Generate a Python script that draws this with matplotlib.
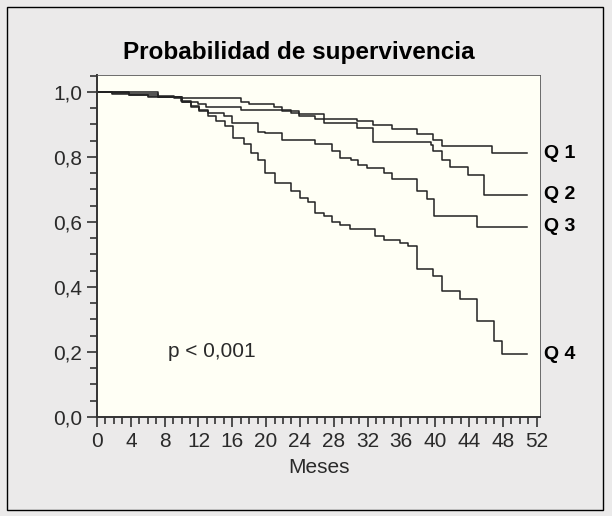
import matplotlib
matplotlib.use('Agg')
from matplotlib import pyplot as plt
from matplotlib.patches import Rectangle
from matplotlib.ticker import MultipleLocator

plt.rcParams['font.family'] = ['Liberation Sans', 'DejaVu Sans']

# Kaplan-Meier steps: (month, survival after the step)
q1_t = [0, 1.8, 3.8, 6.0, 9.1, 12.1, 17.0, 18.0, 20.9, 21.9, 23.9, 26.8, 30.7, 32.7, 34.9, 37.8, 39.8, 40.8, 46.7, 50.9]
q1_s = [1.0, 0.996, 0.99, 0.986, 0.982, 0.98, 0.968, 0.963, 0.953, 0.94, 0.932, 0.918, 0.911, 0.898, 0.885, 0.87, 0.853, 0.835, 0.812, 0.812]
q2_t = [0, 3.8, 7.2, 10.1, 11.9, 12.9, 17.0, 22.9, 23.9, 25.8, 26.8, 30.7, 32.7, 39.5, 39.8, 40.8, 41.8, 43.9, 45.8, 50.9]
q2_s = [1.0, 0.993, 0.983, 0.968, 0.963, 0.953, 0.945, 0.935, 0.926, 0.918, 0.903, 0.888, 0.847, 0.837, 0.817, 0.791, 0.768, 0.743, 0.684, 0.684]
q3_t = [0, 7.2, 10.1, 11.1, 12.1, 13.1, 15.0, 16.0, 19.0, 19.9, 21.9, 25.8, 27.8, 28.8, 30.0, 30.9, 31.9, 33.9, 34.9, 37.8, 39.0, 39.9, 44.9, 50.9]
q3_s = [1.0, 0.983, 0.968, 0.955, 0.945, 0.935, 0.926, 0.903, 0.878, 0.873, 0.853, 0.84, 0.817, 0.796, 0.791, 0.776, 0.765, 0.751, 0.732, 0.694, 0.671, 0.617, 0.585, 0.585]
q4_t = [0, 1.8, 3.8, 6.0, 9.9, 11.1, 12.1, 13.1, 14.1, 15.1, 16.1, 17.4, 18.2, 19.1, 19.9, 21.0, 22.9, 24.0, 25.0, 25.8, 26.8, 27.8, 28.8, 29.9,
        32.9, 33.9, 35.8, 36.8, 37.8, 39.8, 40.8, 42.9, 45.0, 46.9, 47.9, 50.9]
q4_s = [1.0, 0.995, 0.99, 0.985, 0.973, 0.957, 0.94, 0.926, 0.911, 0.894, 0.858, 0.84, 0.812, 0.791, 0.751, 0.72, 0.694, 0.674, 0.66, 0.628,
        0.617, 0.599, 0.592, 0.579, 0.556, 0.544, 0.536, 0.525, 0.454, 0.433, 0.387, 0.362, 0.295, 0.234, 0.193, 0.193]
labels = ['Q 1', 'Q 2', 'Q 3', 'Q 4']

fig = plt.figure(figsize=(6.12, 5.16), dpi=100)
fig.patch.set_facecolor('#ebeaea')
fig.patches.append(Rectangle((7/612, 6/516), 596/612, 503/516, transform=fig.transFigure,
                             fill=False, edgecolor='black', linewidth=1))
ax = fig.add_axes([97/612, 99/516, 443/612, 342/516])
ax.set_facecolor('#fffff5')

series = [(q1_t, q1_s), (q2_t, q2_s), (q3_t, q3_s), (q4_t, q4_s)]
for (t, s), lab in zip(series, labels):
    ax.step(t, s, where='post', color='#222222', linewidth=1.1)
    ax.text(52.9, s[-1], lab, fontsize=14, fontweight='bold', va='center', ha='left', clip_on=False)

ax.set_xlim(0, 52.4)
ax.set_ylim(0, 1.052)
ax.xaxis.set_major_locator(MultipleLocator(4))
ax.xaxis.set_minor_locator(MultipleLocator(1))
ax.yaxis.set_minor_locator(MultipleLocator(0.05))
ax.set_yticks([0, 0.2, 0.4, 0.6, 0.8, 1.0])
ax.set_yticklabels(['0,0', '0,2', '0,4', '0,6', '0,8', '1,0'])
ax.tick_params(which='both', direction='out', color='#333333', width=1.2, labelsize=15, labelcolor='#2a2a2a')
ax.tick_params(which='major', length=7)
ax.tick_params(which='minor', length=5)
for side in ['left', 'bottom']:
    ax.spines[side].set_linewidth(1.4)
    ax.spines[side].set_color('#333333')
for side in ['top', 'right']:
    ax.spines[side].set_linewidth(0.6)
    ax.spines[side].set_color('#555555')

ax.set_xlabel('Meses', fontsize=15, color='#2a2a2a', labelpad=5)
ax.text(8.4, 0.2, 'p < 0,001', fontsize=15, color='#2a2a2a', va='center')
fig.text(299 / 612, 1 - 52/516, 'Probabilidad de supervivencia', fontsize=17.5,
         fontweight='bold', ha='center', va='center')

fig.savefig('out.png', dpi=100, facecolor=fig.get_facecolor())
